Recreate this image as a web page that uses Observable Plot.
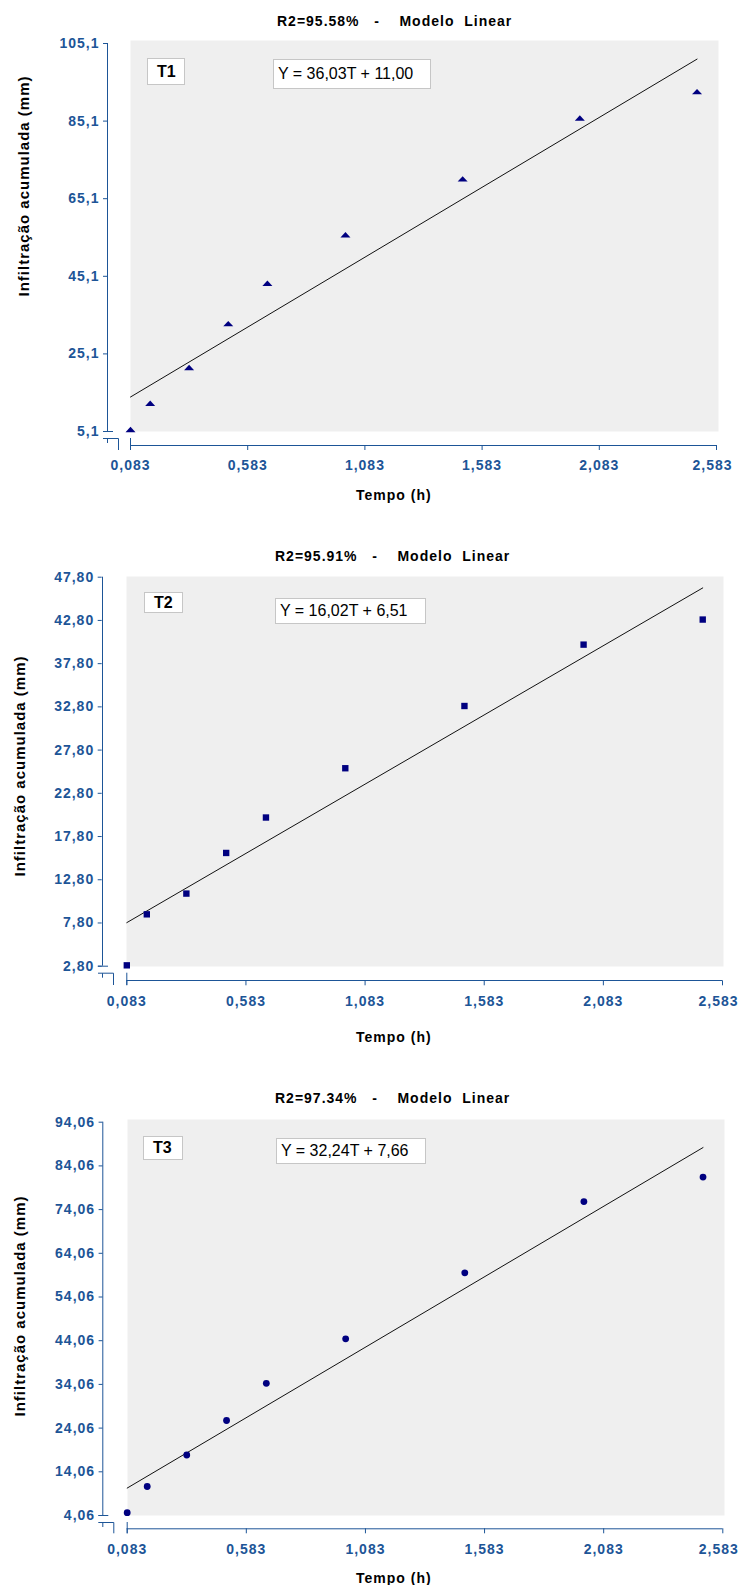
<!DOCTYPE html>
<html>
<head>
<meta charset="utf-8">
<script src="https://cdn.jsdelivr.net/npm/d3@7"></script>
<script src="https://cdn.jsdelivr.net/npm/@observablehq/plot@0.6"></script>
<style>
  body { margin: 0; background: #fff; }
  #wrap { position: relative; width: 741px; height: 1585px; overflow: hidden; font-family: "Liberation Sans", Arial, sans-serif; }
  .chart { position: absolute; left: 0; }
  .t { position: absolute; white-space: pre; line-height: 1; color: #000; }
  .title { font-size: 14px; font-weight: bold; letter-spacing: 1px; }
  .xl { font-size: 14px; font-weight: bold; letter-spacing: 1px; }
  .yl { font-size: 15px; font-weight: bold; letter-spacing: 1px; transform: translate(-50%, -50%) rotate(-90deg); }
  .box { position: absolute; background: #fff; border: 1px solid #c6c6c6; box-sizing: border-box; }
  .box span { position: absolute; white-space: pre; line-height: 1; color: #000; }
</style>
</head>
<body>
<div id="wrap"></div>
<script>
// ---- data ----
const tempo = [0.083, 0.167, 0.333, 0.5, 0.667, 1.0, 1.5, 2.0, 2.5];
const infT1 = [5.6, 12.4, 21.6, 32.9, 43.3, 55.8, 70.2, 85.9, 92.7];
const infT2 = [2.9, 8.8, 11.2, 15.9, 20.0, 25.7, 32.9, 40.0, 42.9];
const infT3 = [4.7, 10.7, 17.9, 25.8, 34.3, 44.5, 59.6, 75.9, 81.5];
const xTicks = [0.083, 0.583, 1.083, 1.583, 2.083, 2.583];
const yTicksT1 = [5.1, 25.1, 45.1, 65.1, 85.1, 105.1];
const yTicksT2 = [2.8, 7.8, 12.8, 17.8, 22.8, 27.8, 32.8, 37.8, 42.8, 47.8];
const yTicksT3 = [4.06, 14.06, 24.06, 34.06, 44.06, 54.06, 64.06, 74.06, 84.06, 94.06];
const treatments = ["T1", "T2", "T3"];
const r2Labels = ["95.58%", "95.91%", "97.34%"];
const slopes = [36.03, 16.02, 32.24];
const intercepts = [11.00, 6.51, 7.66];
const xTitle = "Tempo (h)";
const yTitle = "Infiltração acumulada (mm)";

const BLUE = "#1d5597";
const NAVY = "#000080";
const fmtComma = (d, n) => d.toFixed(n).replace(".", ",");

const flatTriangle = {
  draw(ctx) { ctx.moveTo(-5, 2.7); ctx.lineTo(5, 2.7); ctx.lineTo(0, -2.7); ctx.closePath(); }
};

// layout per panel (page pixels)
const layouts = [
  { top: 0, height: 515, gL: 130, gR: 718, gT: 40, gB: 431, x0: 130, x1: 716, y0: 431, y1: 43, ax: 107, ay: 445,
    dec: 1, symbol: flatTriangle, r: 4, titleX: 277, titleTop: 14, xlTop: 488, ylX: 23, ylY: 186,
    tbox: [147, 58, 38, 27], ebox: [273, 59, 158, 30], values: infT1 },
  { top: 530, height: 530, gL: 126, gR: 723, gT: 576, gB: 966, x0: 126.3, x1: 722, y0: 965.7, y1: 576.7, ax: 102, ay: 980,
    dec: 2, symbol: "square", r: 3.6, titleX: 275, titleTop: 549, xlTop: 1030, ylX: 19, ylY: 766,
    tbox: [144, 592, 39, 21], ebox: [275, 598, 151, 26], values: infT2 },
  { top: 1065, height: 520, gL: 127, gR: 724, gT: 1119, gB: 1515, x0: 126.7, x1: 722.3, y0: 1515, y1: 1121.7, ax: 102.3, ay: 1528.3,
    dec: 2, symbol: "circle", r: 3.4, titleX: 275, titleTop: 1091, xlTop: 1571, ylX: 19, ylY: 1306,
    tbox: [143, 1136, 40, 24], ebox: [276, 1138, 150, 26], values: infT3 }
];
const yTickSets = [yTicksT1, yTicksT2, yTicksT3];

const wrap = document.getElementById("wrap");

function addText(cls, txt, left, top) {
  const d = document.createElement("div");
  d.className = "t " + cls;
  d.textContent = txt;
  d.style.left = left + "px";
  d.style.top = top + "px";
  wrap.appendChild(d);
  return d;
}
function addBox(b, txt, fontSize, weight, padL) {
  const d = document.createElement("div");
  d.className = "box";
  d.style.left = b[0] + "px"; d.style.top = b[1] + "px";
  d.style.width = b[2] + "px"; d.style.height = b[3] + "px";
  const s = document.createElement("span");
  s.textContent = txt;
  s.style.fontSize = fontSize + "px";
  s.style.fontWeight = weight;
  s.style.left = padL + "px";
  s.style.top = ((b[3] - 2 - fontSize) / 2) + "px";
  d.appendChild(s);
  wrap.appendChild(d);
}

layouts.forEach((L, k) => {
  const yTicks = yTickSets[k];
  const top = L.top;
  const pts = tempo.map((t, i) => ({ t, v: L.values[i] }));
  const tEnd = tempo[tempo.length - 1];
  const fit = [
    { t: tempo[0], v: slopes[k] * tempo[0] + intercepts[k] },
    { t: tEnd, v: slopes[k] * tEnd + intercepts[k] }
  ];
  const dx = L.ax - L.x0;
  const dy = L.ay - L.y0;
  const xFmt = d => fmtComma(d, 3);
  const chart = Plot.plot({
    width: 741,
    height: L.height,
    marginLeft: L.gL,
    marginRight: 741 - L.gR,
    marginTop: L.gT - top,
    marginBottom: L.height - (L.gB - top),
    x: { domain: [xTicks[0], xTicks[xTicks.length - 1]], range: [L.x0, L.x1] },
    y: { domain: [yTicks[0], yTicks[yTicks.length - 1]], range: [L.y0 - top, L.y1 - top] },
    style: { fontFamily: "'Liberation Sans', Arial, sans-serif", fontSize: "14px", fontWeight: "bold", color: BLUE, background: "transparent", overflow: "visible" },
    marks: [
      Plot.frame({ fill: "#efefef", stroke: "none" }),
      Plot.line(fit, { x: "t", y: "v", stroke: "#111", strokeWidth: 1 }),
      Plot.dot(pts, { x: "t", y: "v", symbol: L.symbol, r: L.r, fill: NAVY, stroke: "none" }),
      Plot.ruleX([xTicks[0]], { y1: yTicks[0], y2: yTicks[yTicks.length - 1], dx, stroke: BLUE, strokeWidth: 1 }),
      Plot.ruleY([yTicks[0]], { x1: xTicks[0], x2: xTicks[xTicks.length - 1], dy, stroke: BLUE, strokeWidth: 1 }),
      Plot.axisY({ ticks: yTicks, tickFormat: d => fmtComma(d, L.dec), tickSize: 4, tickPadding: 4, dx, label: null, stroke: BLUE, fill: BLUE }),
      Plot.axisX({ ticks: xTicks, tickFormat: xFmt, tickSize: 5, tickPadding: 10, dy, label: null, stroke: BLUE, fill: BLUE, text: null }),
      Plot.axisX({ ticks: xTicks.slice(0, -1), tickFormat: xFmt, tickSize: 0, tickPadding: 15, dy, label: null, fill: BLUE }),
      Plot.axisX({ ticks: xTicks.slice(-1), tickFormat: xFmt, tickSize: 0, tickPadding: 15, dy, dx: -4, label: null, fill: BLUE })
    ]
  });
  chart.classList.add("chart");
  chart.style.top = top + "px";
  chart.style.letterSpacing = "1px";
  wrap.appendChild(chart);

  // axis-break decorations
  const sx = chart.scale("x"), sy = chart.scale("y");
  const bx = sx.apply(xTicks[0]);
  const by = sy.apply(yTicks[0]);
  const ax = bx + dx, ayy = by + dy;
  const g = d3.select(chart).append("g").attr("stroke", BLUE).attr("fill", "none").attr("stroke-width", 1);
  g.append("path").attr("d", `M${ax - 4},${by + 0.5}H${ax + 6}`);
  g.append("path").attr("d", `M${ax - 4},${by + 7.5}H${ax + 11.5}V${ayy + 5}M${ax + 0.5},${by + 7.5}V${by + 12}`);
  g.append("path").attr("d", `M${bx + 0.5},${by + 7}V${ayy + 5}`);

  // text around the chart
  addText("title", `R2=${r2Labels[k]}   -    Modelo  Linear`, L.titleX, L.titleTop);
  addText("xl", xTitle, 356, L.xlTop);
  addText("yl", yTitle, L.ylX, L.ylY);
  addBox(L.tbox, treatments[k], 16, "bold", 9);
  addBox(L.ebox, `Y = ${fmtComma(slopes[k], 2)}T + ${fmtComma(intercepts[k], 2)}`, 16, "normal", 4);
});
</script>
</body>
</html>
